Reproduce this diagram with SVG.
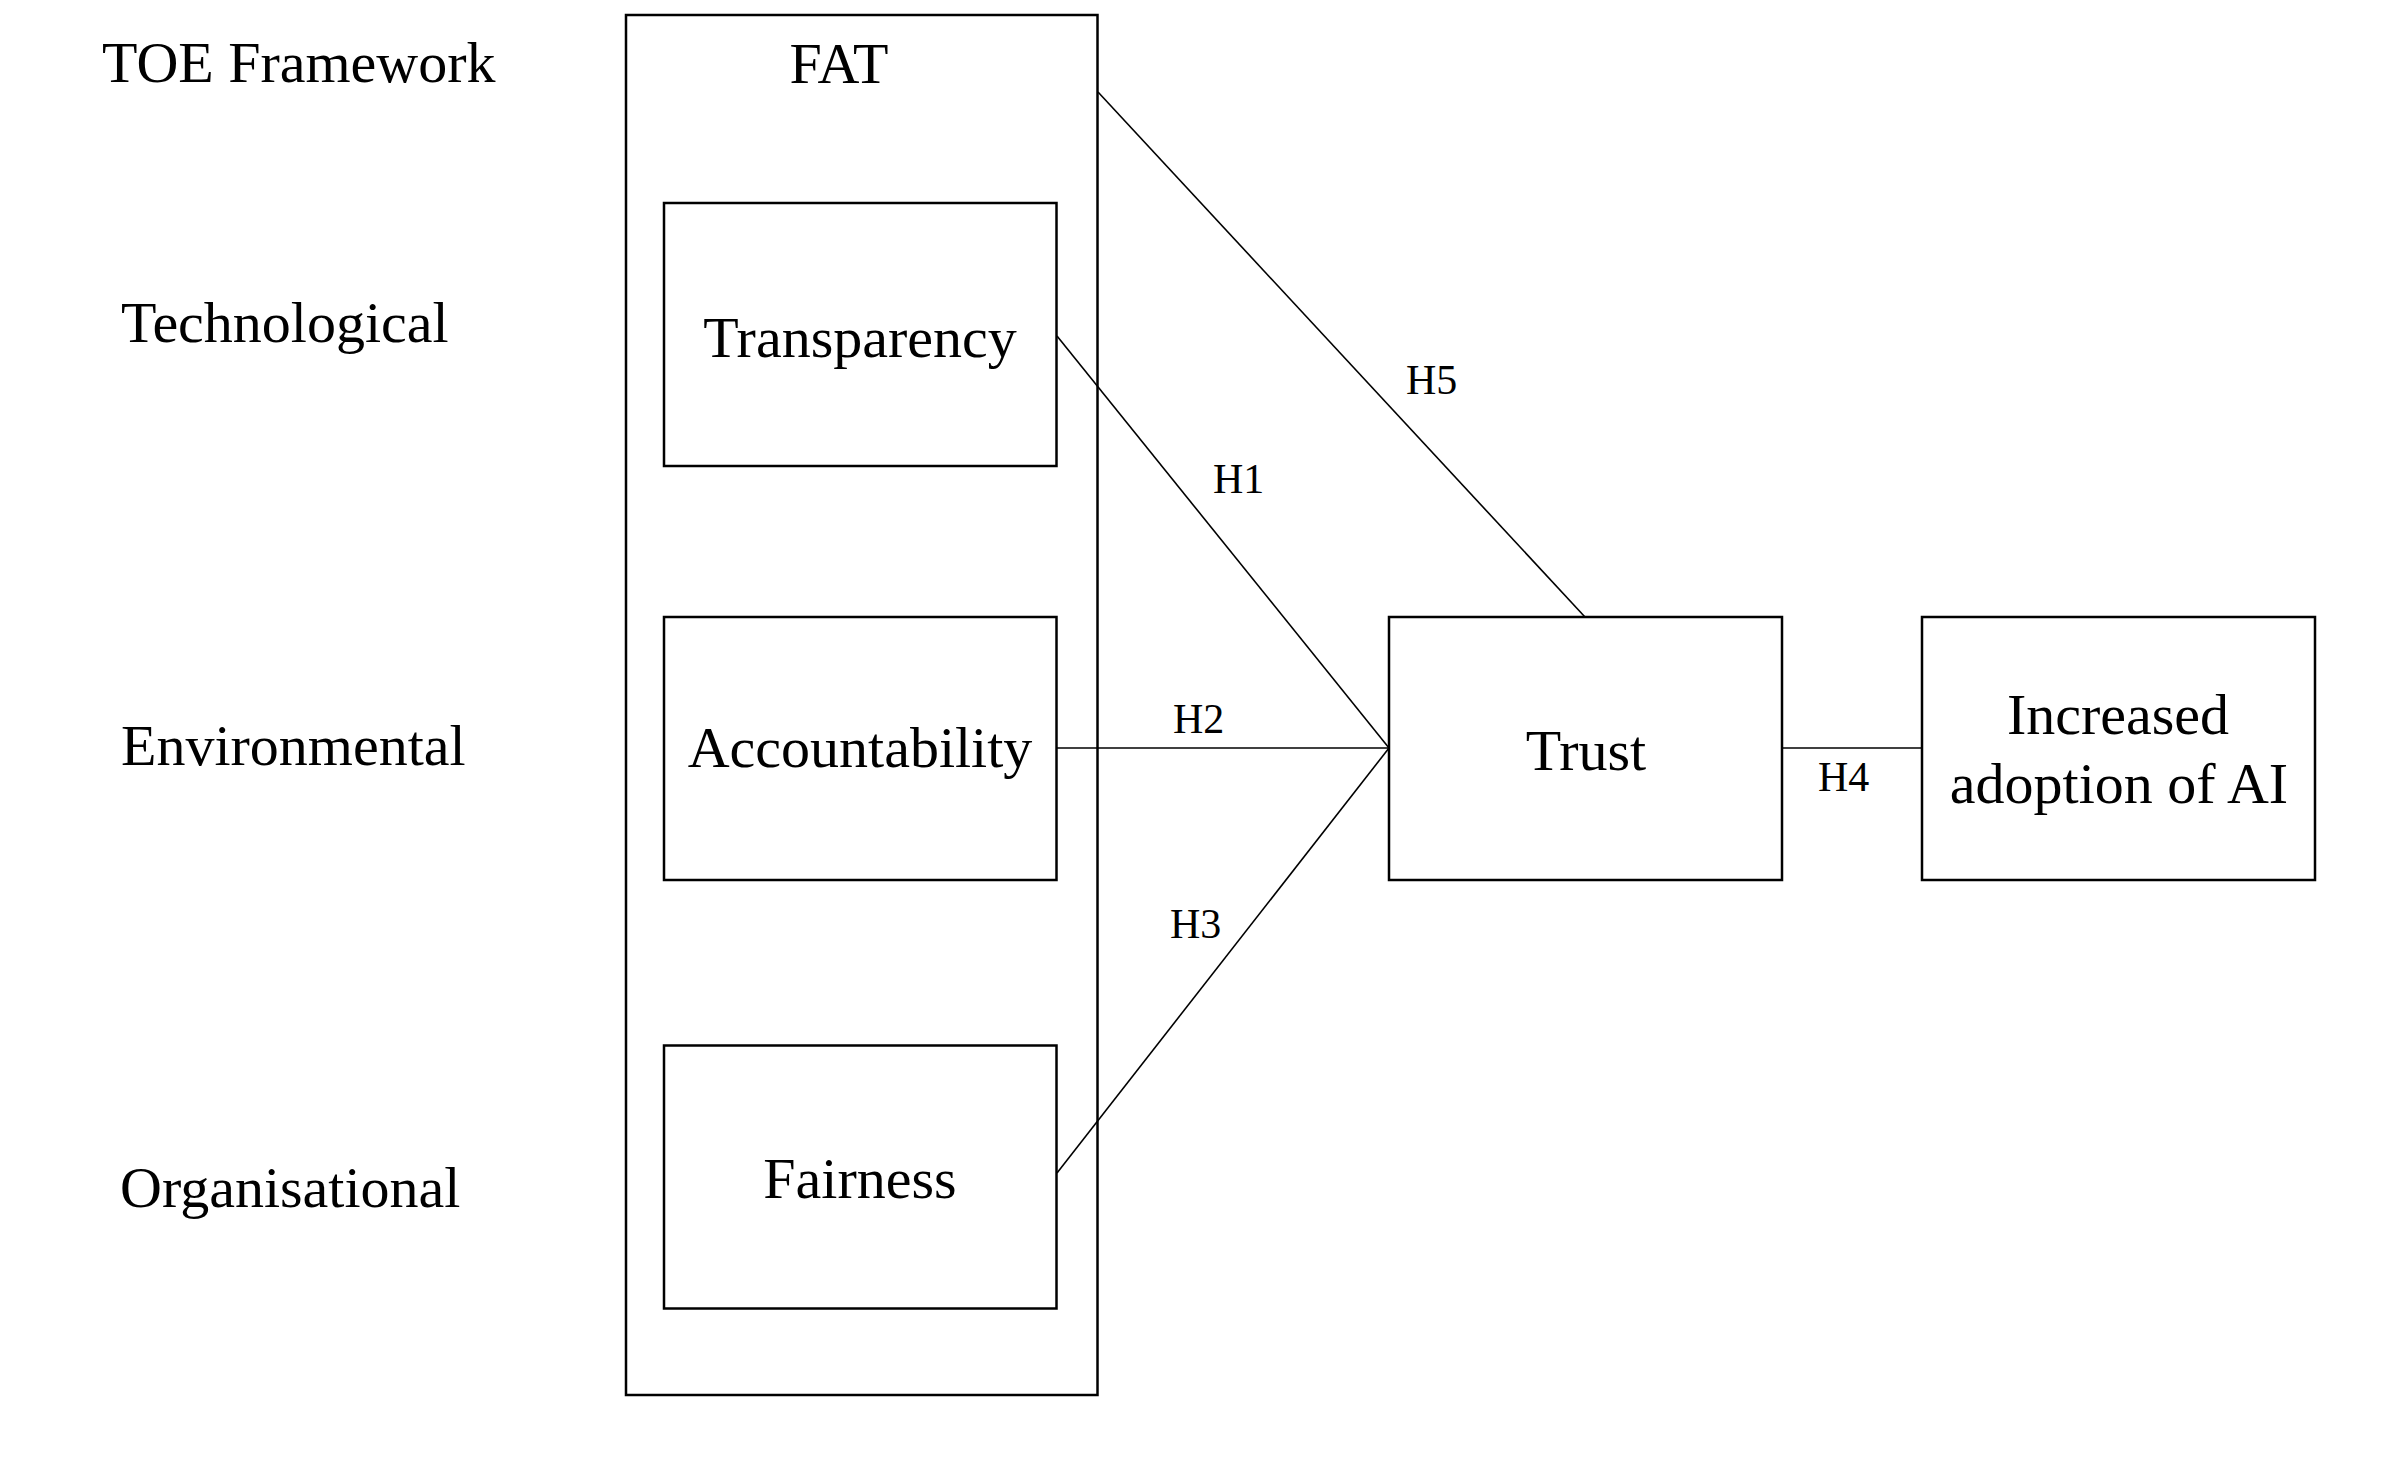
<svg xmlns="http://www.w3.org/2000/svg" width="2396" height="1460" viewBox="0 0 2396 1460">
<style>
.box{fill:none;stroke:#000;stroke-width:2.5}
.con{fill:none;stroke:#000;stroke-width:1.6}
.t{font-family:"Liberation Serif","Times New Roman",serif;font-size:58px;fill:#000}
.c{text-anchor:middle}
.h{font-family:"Liberation Serif","Times New Roman",serif;font-size:42px;fill:#000}
</style>
<rect width="2396" height="1460" fill="#fff"/>
<g id="toe-labels">
<text class="t" x="102" y="82">TOE Framework</text>
<text class="t" x="121" y="342">Technological</text>
<text class="t" x="121" y="765">Environmental</text>
<text class="t" x="120" y="1207">Organisational</text>
</g>
<g id="fat">
<rect class="box" x="626" y="15" width="471.5" height="1380"/>
<text class="t c" x="839" y="83">FAT</text>
</g>
<g id="transparency">
<rect class="box" x="664" y="203" width="392.5" height="263"/>
<text class="t c" x="860" y="357">Transparency</text>
</g>
<g id="accountability">
<rect class="box" x="664" y="617" width="392.5" height="263"/>
<text class="t c" x="860" y="767">Accountability</text>
</g>
<g id="fairness">
<rect class="box" x="664" y="1045.5" width="392.5" height="263"/>
<text class="t c" x="860" y="1198">Fairness</text>
</g>
<g id="trust">
<rect class="box" x="1389" y="617" width="393" height="263"/>
<text class="t c" x="1586" y="770">Trust</text>
</g>
<g id="adoption">
<rect class="box" x="1922" y="617" width="393" height="263"/>
<text class="t c" x="2118" y="734">Increased</text>
<text class="t c" x="2119" y="803">adoption of AI</text>
</g>
<g id="connectors">
<line class="con" x1="1098" y1="92" x2="1585" y2="617"/>
<line class="con" x1="1057" y1="336" x2="1389" y2="748"/>
<line class="con" x1="1057" y1="748" x2="1389" y2="748"/>
<line class="con" x1="1057" y1="1173" x2="1389" y2="748"/>
<line class="con" x1="1782" y1="748" x2="1922" y2="748"/>
<text class="h" x="1213" y="493">H1</text>
<text class="h" x="1173" y="733">H2</text>
<text class="h" x="1170" y="938">H3</text>
<text class="h" x="1818" y="791">H4</text>
<text class="h" x="1406" y="394">H5</text>
</g>
</svg>
